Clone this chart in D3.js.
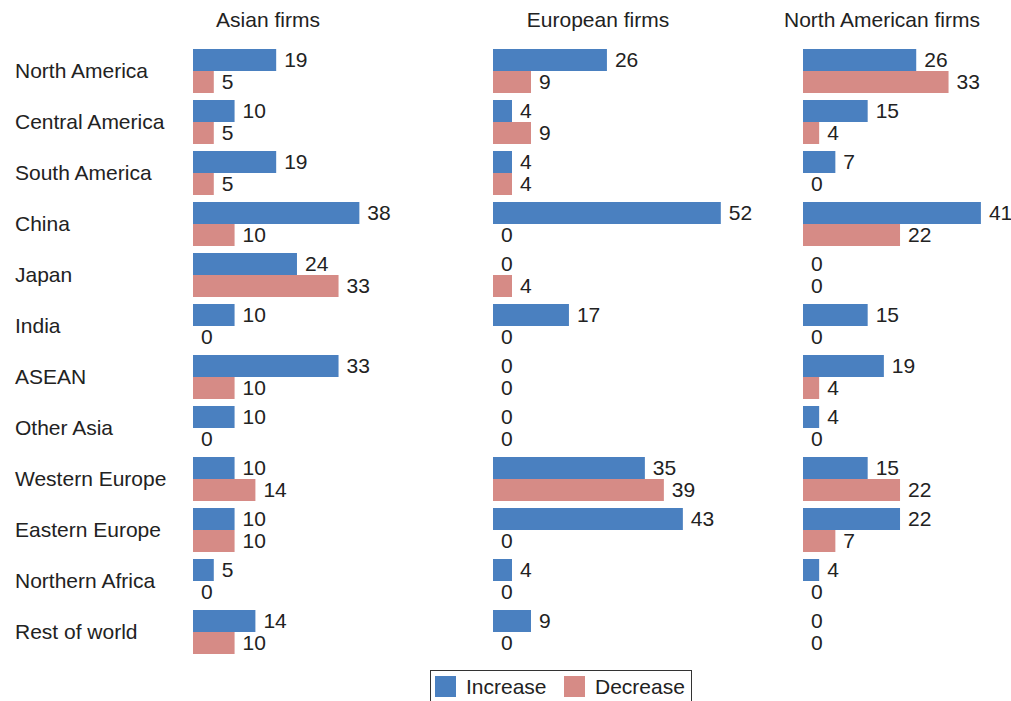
<!DOCTYPE html>
<html>
<head>
<meta charset="utf-8">
<script src="https://cdn.jsdelivr.net/npm/d3@7"></script>
<style>
  body { margin: 0; background: #fff; }
  text { font-family: "Liberation Sans", Arial, Helvetica, sans-serif; fill: #222; }
</style>
</head>
<body>
<div id="chart"></div>
<script>
// 地区
var categories = ["North America", "Central America", "South America", "China", "Japan", "India",
    "ASEAN", "Other Asia", "Western Europe", "Eastern Europe", "Northern Africa", "Rest of world"];
var series = ["Increase", "Decrease"];
var panelTitles = ["Asian firms", "European firms", "North American firms"];

// 百分比(%)
var asianInc = [19.05, 9.52, 19.05, 38.10, 23.81, 9.52, 33.33, 9.52, 9.52, 9.52, 4.76, 14.29];
var asianDec = [4.76, 4.76, 4.76, 9.52, 33.33, 0, 9.52, 0, 14.29, 9.52, 0, 9.52];
var europeanInc = [26.09, 4.35, 4.35, 52.17, 0, 17.39, 0, 0, 34.78, 43.48, 4.35, 8.70];
var europeanDec = [8.70, 8.70, 4.35, 0, 4.35, 0, 0, 0, 39.13, 0, 0, 0];
var naInc = [25.93, 14.81, 7.41, 40.74, 0, 14.81, 18.52, 3.70, 14.81, 22.22, 3.70, 0];
var naDec = [33.33, 3.70, 0, 22.22, 0, 0, 3.70, 0, 22.22, 7.41, 0, 0];

var width = 1011, height = 701;
var colors = { Increase: "#4a80c0", Decrease: "#d68b86" };
var fs = 21;

var panels = [
    { title: panelTitles[0], inc: asianInc, dec: asianDec, x0: 193, tx: 268 },
    { title: panelTitles[1], inc: europeanInc, dec: europeanDec, x0: 493, tx: 598 },
    { title: panelTitles[2], inc: naInc, dec: naDec, x0: 803, tx: 882 }
];

var svg = d3.select("#chart")
    .append("svg")
    .attr("width", width)
    .attr("height", height);

// y 方向分组
var p = 7 / 51;
var y = d3.scaleBand()
    .domain(categories)
    .range([45.5, 657.5])
    .paddingInner(p)
    .paddingOuter(p / 2);
var ySub = d3.scaleBand()
    .domain(series)
    .range([0, y.bandwidth()]);
var x = d3.scaleLinear()
    .domain([0, 60])
    .range([0, 262]);
var fmt = d3.format(".0f");

// 左侧地区标签
svg.append("g")
    .selectAll("text")
    .data(categories)
    .enter()
    .append("text")
    .attr("x", 15)
    .attr("y", function (d) { return y(d) + y.bandwidth() / 2; })
    .attr("dy", "0.33em")
    .attr("font-size", fs)
    .text(function (d) { return d; });

panels.forEach(function (pn) {
    var g = svg.append("g")
        .attr("transform", "translate(" + pn.x0 + ",0)");

    svg.append("text")
        .attr("x", pn.tx)
        .attr("y", 27)
        .attr("text-anchor", "middle")
        .attr("font-size", fs)
        .text(pn.title);

    var rows = [];
    categories.forEach(function (c, i) {
        rows.push({ cat: c, s: "Increase", v: pn.inc[i] });
        rows.push({ cat: c, s: "Decrease", v: pn.dec[i] });
    });

    g.selectAll("rect")
        .data(rows)
        .enter()
        .append("rect")
        .attr("x", 0)
        .attr("y", function (d) { return y(d.cat) + ySub(d.s); })
        .attr("width", function (d) { return x(d.v); })
        .attr("height", ySub.bandwidth())
        .attr("fill", function (d) { return colors[d.s]; });

    g.selectAll("text.val")
        .data(rows)
        .enter()
        .append("text")
        .attr("class", "val")
        .attr("x", function (d) { return x(d.v) + 8; })
        .attr("y", function (d) { return y(d.cat) + ySub(d.s) + ySub.bandwidth() / 2; })
        .attr("dy", "0.33em")
        .attr("font-size", fs)
        .text(function (d) { return fmt(d.v); });
});

// 图例
var legend = svg.append("g");
legend.append("rect")
    .attr("x", 430.5)
    .attr("y", 670.5)
    .attr("width", 261)
    .attr("height", 40)
    .attr("fill", "none")
    .attr("stroke", "#333")
    .attr("stroke-width", 1);
var legX = [435, 564];
series.forEach(function (s, i) {
    legend.append("rect")
        .attr("x", legX[i])
        .attr("y", 676)
        .attr("width", 21)
        .attr("height", 21)
        .attr("fill", colors[s]);
    legend.append("text")
        .attr("x", legX[i] + 31)
        .attr("y", 694)
        .attr("font-size", fs)
        .text(s);
});
</script>
</body>
</html>
